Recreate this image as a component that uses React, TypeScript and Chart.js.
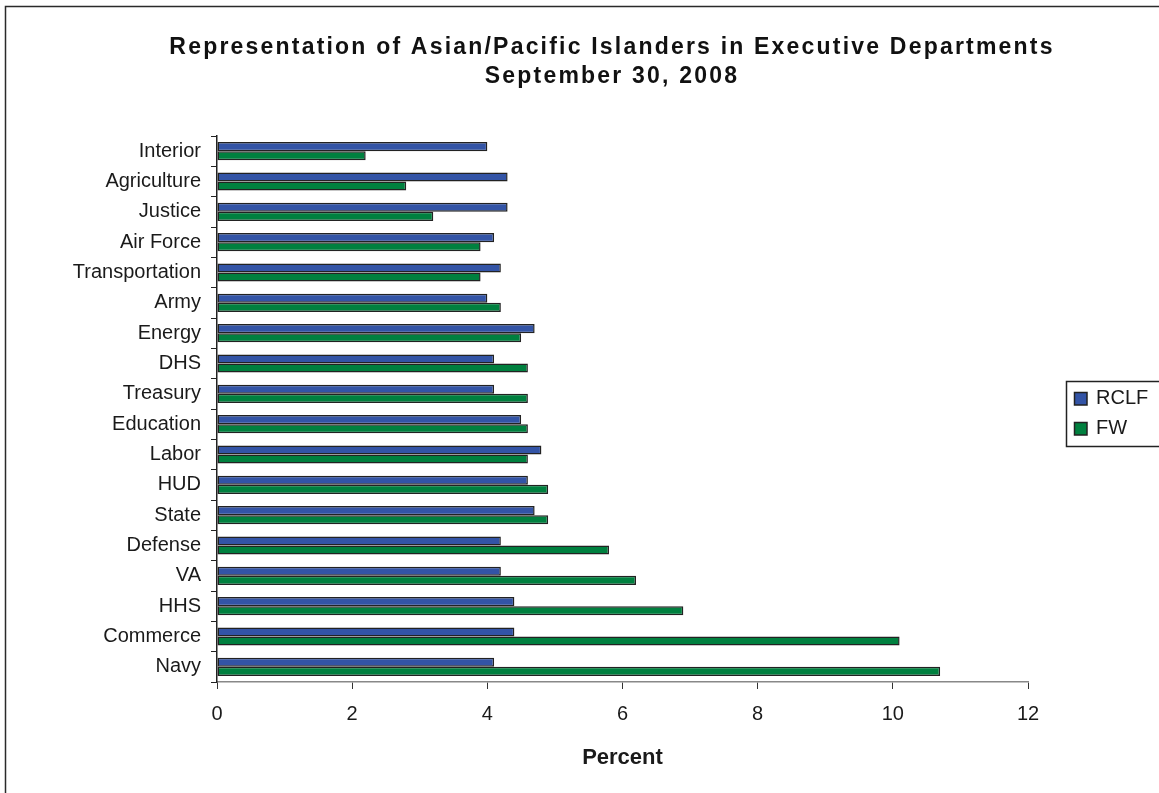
import React, { useEffect, useRef } from 'react';
import { Chart, registerables } from 'chart.js';

Chart.register(...registerables);

const categories = ['Interior', 'Agriculture', 'Justice', 'Air Force', 'Transportation', 'Army', 'Energy', 'DHS', 'Treasury', 'Education', 'Labor', 'HUD', 'State', 'Defense', 'VA', 'HHS', 'Commerce', 'Navy'];
const rclfValues = [4.0, 4.3, 4.3, 4.1, 4.2, 4.0, 4.7, 4.1, 4.1, 4.5, 4.8, 4.6, 4.7, 4.2, 4.2, 4.4, 4.4, 4.1];
const fwValues = [2.2, 2.8, 3.2, 3.9, 3.9, 4.2, 4.5, 4.6, 4.6, 4.6, 4.6, 4.9, 4.9, 5.8, 6.2, 6.9, 10.1, 10.7];
const xTickValues = [0, 2, 4, 6, 8, 10, 12];
const titleLines = ['Representation of Asian/Pacific Islanders in Executive Departments', 'September 30, 2008'];
const xAxisTitle = 'Percent';
const seriesNames = ['RCLF', 'FW'];
const seriesColors = ['#3354A6', '#00803F'];

const FONT = '"Liberation Sans", Arial, Helvetica, sans-serif';
const TEXT = '#1a1a1a';

const decorPlugin = {
  id: 'decor',
  afterDraw(chart: any) {
    const ctx = chart.ctx as CanvasRenderingContext2D;
    ctx.save();
    // outer chart border
    ctx.strokeStyle = '#2a2a2a';
    ctx.lineWidth = 1.5;
    ctx.strokeRect(5.5, 6.5, 2000, 2000);

    // title
    ctx.fillStyle = '#111';
    ctx.font = `bold 23px ${FONT}`;
    (ctx as any).letterSpacing = '2.2px';
    ctx.textAlign = 'center';
    ctx.textBaseline = 'alphabetic';
    ctx.fillText(titleLines[0], 612, 54);
    ctx.fillText(titleLines[1], 612, 83);
    (ctx as any).letterSpacing = '0px';

    // legend
    ctx.strokeStyle = '#222';
    ctx.lineWidth = 1.5;
    ctx.strokeRect(1066.5, 381.5, 300, 65);
    ctx.font = `20px ${FONT}`;
    ctx.textAlign = 'left';
    chart.data.datasets.forEach((ds: any, i: number) => {
      const y = 392 + i * 30;
      ctx.fillStyle = ds.backgroundColor;
      ctx.fillRect(1074, y, 13, 13);
      ctx.strokeStyle = '#222';
      ctx.lineWidth = 1.5;
      ctx.strokeRect(1074.5, y + 0.5, 12.5, 12.5);
      ctx.fillStyle = TEXT;
      ctx.fillText(ds.label, 1096, y + 12);
    });
    ctx.restore();
  },
};

export default function App() {
  const ref = useRef<HTMLCanvasElement | null>(null);

  useEffect(() => {
    if (!ref.current) return;
    const chart = new Chart(ref.current, {
      type: 'bar',
      data: {
        labels: categories,
        datasets: [
          {
            label: seriesNames[0],
            data: rclfValues,
            backgroundColor: seriesColors[0],
            borderColor: '#222',
            borderWidth: 1.5,
            borderSkipped: false,
            categoryPercentage: 0.6,
            barPercentage: 1.0,
          },
          {
            label: seriesNames[1],
            data: fwValues,
            backgroundColor: seriesColors[1],
            borderColor: '#222',
            borderWidth: 1.5,
            borderSkipped: false,
            categoryPercentage: 0.6,
            barPercentage: 1.0,
          },
        ],
      },
      options: {
        indexAxis: 'y',
        responsive: false,
        animation: false,
        events: [],
        layout: { padding: { top: 136, right: 131, left: 0, bottom: 0 } },
        plugins: {
          legend: { display: false },
          title: { display: false },
          tooltip: { enabled: false },
        },
        scales: {
          x: {
            type: 'linear',
            min: 0,
            max: 12,
            afterBuildTicks: (s: any) => {
              s.ticks = xTickValues.map((v) => ({ value: v }));
            },
            afterFit: (s: any) => {
              s.height = 111;
            },
            grid: { drawOnChartArea: false, drawTicks: true, tickLength: 7, color: '#333', lineWidth: 1 },
            border: { display: true, color: '#888', width: 1.5 },
            ticks: { font: { size: 20, family: FONT }, color: TEXT, padding: 13, maxRotation: 0 },
            title: {
              display: true,
              text: xAxisTitle,
              font: { size: 22, weight: 'bold', family: FONT },
              color: TEXT,
              padding: { top: 0, bottom: 22 },
            },
          },
          y: {
            type: 'category',
            afterFit: (s: any) => {
              s.width = 217;
            },
            grid: { offset: true, drawOnChartArea: false, drawTicks: true, tickLength: 6, color: '#222', lineWidth: 1 },
            border: { display: true, color: '#222', width: 1.5 },
            ticks: { font: { size: 20, family: FONT }, color: TEXT, padding: 10, autoSkip: false },
          },
        },
      } as any,
      plugins: [decorPlugin],
    });
    return () => chart.destroy();
  }, []);

  return (
    <div style={{ position: 'absolute', left: 0, top: 0, width: 1159, height: 793, background: '#fff' }}>
      <canvas ref={ref} width={1159} height={793} style={{ display: 'block' }} />
    </div>
  );
}
